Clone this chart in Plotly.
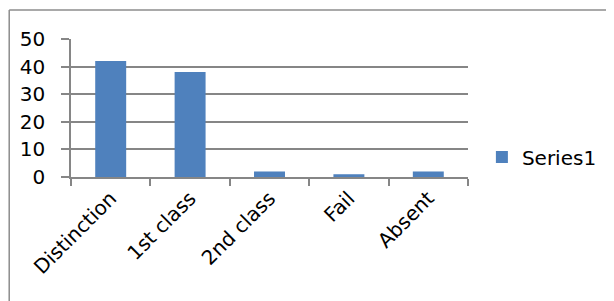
import plotly.graph_objects as go

categories = ["Distinction", "1st class", "2nd class", "Fail", "Absent"]
values = [42, 38, 2, 1, 2]
series_name = "Series1"
y_ticks = [0, 10, 20, 30, 40, 50]

# the page body has an 8px margin; lay out in figure pixels
OFF = 8
W, H = 614 - OFF, 301 - OFF
L, T = 71 - OFF, 39 - OFF
pw, ph = 400, 138
R, B = W - L - pw, H - T - ph

def px_x(x):  # page pixel -> paper
    return (x - OFF - L) / pw

def px_y(y):
    return 1 - (y - OFF - T) / ph

fig = go.Figure()
fig.add_trace(go.Bar(x=categories, y=values, name=series_name,
                     marker=dict(color="#4F81BD", line=dict(width=0)),
                     width=0.39, showlegend=True))

font = dict(family="DejaVu Sans, sans-serif", size=20, color="#000000")

fig.update_layout(
    width=W, height=H,
    margin=dict(l=L, r=R, t=T, b=B, pad=0),
    paper_bgcolor="white", plot_bgcolor="white",
    font=font,
    showlegend=True,
    legend=dict(x=px_x(485), y=px_y(157), xanchor="left", yanchor="middle",
                font=font, bgcolor="rgba(0,0,0,0)", itemwidth=30),
    xaxis=dict(type="category", showline=True, linecolor="#868686", linewidth=1.5,
               ticks="outside", ticklen=7, tickcolor="#868686", tickwidth=1.5,
               tickson="boundaries", tickangle=-45, showgrid=False,
               tickfont=font, automargin=False),
    yaxis=dict(range=[0, 50], tickvals=y_ticks, showline=True, linecolor="#868686",
               linewidth=1.5, ticks="outside", ticklen=8, tickcolor="#868686",
               tickwidth=1.5, showgrid=True, gridcolor="#868686", gridwidth=1.5,
               zeroline=False, ticklabelstandoff=12, tickfont=font, automargin=False),
    shapes=[
        dict(type="line", xref="paper", yref="paper", x0=px_x(8.75), x1=px_x(620),
             y0=px_y(10), y1=px_y(10), line=dict(color="#8c8c8c", width=1.5)),
        dict(type="line", xref="paper", yref="paper", x0=px_x(8.75), x1=px_x(8.75),
             y0=px_y(10), y1=px_y(320), line=dict(color="#8c8c8c", width=1.5)),
    ],
)

fig.write_html("out.html")
